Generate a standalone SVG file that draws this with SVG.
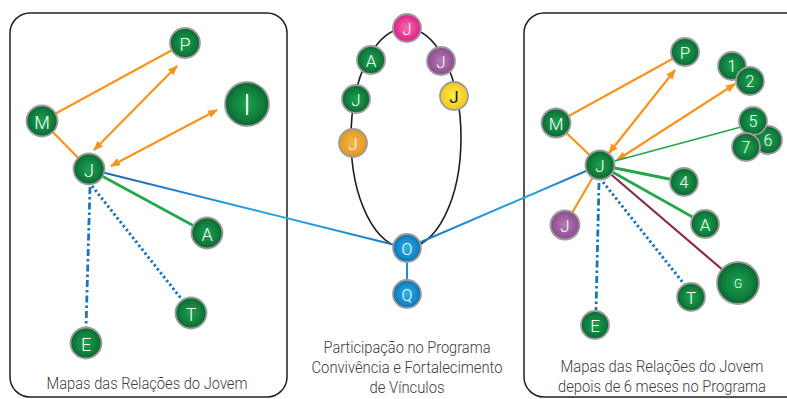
<svg xmlns="http://www.w3.org/2000/svg" width="787" height="399" viewBox="0 0 787 399">
<style>
.box{fill:none;stroke:#231f20;stroke-width:1.5}
.n{stroke:#9c9c9c;stroke-width:1.8}
.g{fill:url(#gGreen)}
.b{fill:url(#gBlue)}
.lbl{font-family:Roboto,"Liberation Sans",sans-serif;font-weight:300;fill:#ffffff;text-anchor:middle;dominant-baseline:central}
.cap{font-family:Roboto,"Liberation Sans",sans-serif;font-weight:300;fill:#3c3c3c;font-size:16px;text-anchor:middle}
.or{stroke:#f7941d;stroke-width:2.2;fill:none}
.arr{marker-start:url(#ah);marker-end:url(#ah)}
.gr{stroke:#22a74a;fill:none}
.dot{stroke:#1b75bc;stroke-width:3;stroke-dasharray:2.4 2.6;fill:none}
.dd{stroke:#1b75bc;stroke-width:2.8;stroke-dasharray:7 3 2.5 3;fill:none}
</style>
<defs>
<radialGradient id="gGreen" cx="0.5" cy="0.5" r="0.5"><stop offset="0" stop-color="#1ba34f"/><stop offset="0.75" stop-color="#0f7a3b"/><stop offset="1" stop-color="#0a6331"/></radialGradient>
<radialGradient id="gBlue" cx="0.5" cy="0.5" r="0.5"><stop offset="0" stop-color="#2fb2e6"/><stop offset="0.75" stop-color="#1486c8"/><stop offset="1" stop-color="#0c69a8"/></radialGradient>
<radialGradient id="gPink" cx="0.5" cy="0.5" r="0.5"><stop offset="0" stop-color="#f46fae"/><stop offset="1" stop-color="#dd1f86"/></radialGradient>
<radialGradient id="gPurple" cx="0.5" cy="0.5" r="0.5"><stop offset="0" stop-color="#b77cb8"/><stop offset="1" stop-color="#8b4b8d"/></radialGradient>
<radialGradient id="gYellow" cx="0.5" cy="0.5" r="0.5"><stop offset="0" stop-color="#fff04f"/><stop offset="1" stop-color="#f6c51a"/></radialGradient>
<radialGradient id="gOrange" cx="0.5" cy="0.5" r="0.5"><stop offset="0" stop-color="#f6b54e"/><stop offset="1" stop-color="#e2981f"/></radialGradient>
<linearGradient id="lnL" gradientUnits="userSpaceOnUse" x1="89" y1="169" x2="407" y2="248"><stop offset="0" stop-color="#1b63ad"/><stop offset="0.6" stop-color="#2ba8dc"/><stop offset="1" stop-color="#1b75bc"/></linearGradient>
<linearGradient id="lnR" gradientUnits="userSpaceOnUse" x1="407" y1="248" x2="600" y2="165"><stop offset="0" stop-color="#1b75bc"/><stop offset="0.6" stop-color="#2ba8dc"/><stop offset="1" stop-color="#1b6fba"/></linearGradient>
<marker id="ah" viewBox="0 0 10 8" refX="9" refY="4" markerWidth="10" markerHeight="8" markerUnits="userSpaceOnUse" orient="auto-start-reverse"><path d="M0,0 L10,4 L0,8 z" fill="#f7941d"/></marker>
</defs>

<rect class="box" x="10" y="13" width="277" height="384" rx="20"/>
<rect class="box" x="524" y="13" width="300" height="384" rx="20"/>

<g id="connectors">
<ellipse cx="406" cy="138" rx="55" ry="110" fill="none" stroke="#231f20" stroke-width="1.6"/>
<line x1="89" y1="169" x2="407" y2="248" stroke="url(#lnL)" stroke-width="2"/>
<line x1="407" y1="248" x2="600" y2="165" stroke="url(#lnR)" stroke-width="2"/>
<line x1="407" y1="248" x2="407" y2="294" stroke="#1b8fd0" stroke-width="2"/>
<!-- left -->
<line class="or" x1="42" y1="121" x2="185" y2="43"/>
<line class="or" x1="42" y1="121" x2="89" y2="169"/>
<line class="or arr" x1="94" y1="150" x2="177" y2="66"/>
<line class="or arr" x1="111" y1="166" x2="217" y2="110"/>
<line class="gr" stroke-width="2.6" x1="89" y1="169" x2="207" y2="233"/>
<line class="dot" x1="92" y1="186" x2="183" y2="301"/>
<line class="dd" x1="90" y1="187" x2="86" y2="328"/>
<!-- right -->
<line class="or" x1="556" y1="123" x2="685" y2="52"/>
<line class="or" x1="556" y1="123" x2="600" y2="165"/>
<line class="or arr" x1="609" y1="153" x2="675" y2="70"/>
<line class="or arr" x1="617" y1="160" x2="735" y2="84"/>
<line class="or" x1="600" y1="165" x2="565" y2="225"/>
<line class="gr" stroke-width="1.6" x1="600" y1="165" x2="741" y2="127"/>
<line class="gr" stroke-width="3" x1="600" y1="165" x2="684" y2="182"/>
<line class="gr" stroke-width="2.6" x1="600" y1="165" x2="705" y2="224"/>
<line stroke="#8b2a50" stroke-width="2.2" x1="600" y1="165" x2="738" y2="283"/>
<line class="dot" x1="603" y1="182" x2="684" y2="284"/>
<line class="dd" x1="599" y1="183" x2="596" y2="310"/>
</g>

<g id="L-P"><circle class="n g" cx="185" cy="43" r="15"/><text class="lbl" x="185" y="44" font-size="18">P</text></g>
<g id="L-I"><circle class="n g" cx="247" cy="104" r="22"/><text class="lbl" x="247" y="104" font-size="30">I</text></g>
<g id="L-M"><circle class="n g" cx="42" cy="121" r="15.5"/><text class="lbl" x="42" y="122" font-size="18">M</text></g>
<g id="L-J"><circle class="n g" cx="89" cy="169" r="15.5"/><text class="lbl" x="89" y="170" font-size="18">J</text></g>
<g id="L-A"><circle class="n g" cx="207" cy="233" r="15.5"/><text class="lbl" x="207" y="234" font-size="18">A</text></g>
<g id="L-T"><circle class="n g" cx="191" cy="313" r="15.5"/><text class="lbl" x="191" y="314" font-size="18">T</text></g>
<g id="L-E"><circle class="n g" cx="86" cy="343" r="15.5"/><text class="lbl" x="86" y="344" font-size="18">E</text></g>

<g id="C-J1"><circle class="n" fill="url(#gPink)" cx="407" cy="28" r="14"/><text class="lbl" x="407" y="29" font-size="17">J</text></g>
<g id="C-A"><circle class="n g" cx="371" cy="60" r="14"/><text class="lbl" x="371" y="61" font-size="17">A</text></g>
<g id="C-J2"><circle class="n" fill="url(#gPurple)" cx="441" cy="61" r="14"/><text class="lbl" x="441" y="62" font-size="17">J</text></g>
<g id="C-J3"><circle class="n" fill="url(#gYellow)" cx="454" cy="96" r="14"/><text class="lbl" x="454" y="97" font-size="17" style="fill:#1a1a1a;font-weight:400">J</text></g>
<g id="C-J4"><circle class="n g" cx="356" cy="99" r="14"/><text class="lbl" x="356" y="100" font-size="17">J</text></g>
<g id="C-J5"><circle class="n" fill="url(#gOrange)" cx="353" cy="143" r="14"/><text class="lbl" x="353" y="144" font-size="17">J</text></g>
<g id="C-O"><circle class="n b" cx="407" cy="248" r="14"/><text class="lbl" x="407" y="249" font-size="16">O</text></g>
<g id="C-Q"><circle class="n b" cx="407" cy="294" r="14"/><text class="lbl" x="407" y="295" font-size="16">Q</text></g>

<g id="R-P"><circle class="n g" cx="685" cy="52" r="14"/><text class="lbl" x="685" y="53" font-size="17">P</text></g>
<g id="R-1"><circle class="n g" cx="732" cy="66" r="14"/><text class="lbl" x="732" y="66" font-size="16">1</text></g>
<g id="R-2"><circle class="n g" cx="750" cy="81" r="14"/><text class="lbl" x="750" y="81" font-size="16">2</text></g>
<g id="R-6"><circle class="n g" cx="768" cy="140" r="14"/><text class="lbl" x="768" y="140" font-size="16">6</text></g>
<g id="R-5"><circle class="n g" cx="753" cy="121" r="14"/><text class="lbl" x="753" y="121" font-size="16">5</text></g>
<g id="R-7"><circle class="n g" cx="746" cy="147" r="14"/><text class="lbl" x="746" y="147" font-size="16">7</text></g>
<g id="R-M"><circle class="n g" cx="556" cy="123" r="14.5"/><text class="lbl" x="556" y="124" font-size="17">M</text></g>
<g id="R-J"><circle class="n g" cx="600" cy="165" r="14.5"/><text class="lbl" x="600" y="166" font-size="17">J</text></g>
<g id="R-4"><circle class="n g" cx="684" cy="182" r="14"/><text class="lbl" x="684" y="182" font-size="16">4</text></g>
<g id="R-JP"><circle class="n" fill="url(#gPurple)" cx="565" cy="225" r="14.5"/><text class="lbl" x="565" y="226" font-size="17">J</text></g>
<g id="R-A"><circle class="n g" cx="705" cy="224" r="14"/><text class="lbl" x="705" y="225" font-size="17">A</text></g>
<g id="R-G"><circle class="n g" cx="738" cy="283" r="21"/><text class="lbl" x="738" y="284" font-size="12">G</text></g>
<g id="R-T"><circle class="n g" cx="691" cy="297" r="14"/><text class="lbl" x="691" y="298" font-size="17">T</text></g>
<g id="R-E"><circle class="n g" cx="595" cy="325" r="14"/><text class="lbl" x="595" y="326" font-size="17">E</text></g>

<text class="cap" x="147" y="389" textLength="201" lengthAdjust="spacingAndGlyphs">Mapas das Relações do Jovem</text>
<text class="cap" x="407" y="353" textLength="167" lengthAdjust="spacingAndGlyphs">Participação no Programa</text>
<text class="cap" x="407" y="373" textLength="191" lengthAdjust="spacingAndGlyphs">Convivência e Fortalecimento</text>
<text class="cap" x="407" y="393" textLength="75" lengthAdjust="spacingAndGlyphs">de Vínculos</text>
<text class="cap" x="662" y="372" textLength="203" lengthAdjust="spacingAndGlyphs">Mapas das Relações do Jovem</text>
<text class="cap" x="662" y="392" textLength="208" lengthAdjust="spacingAndGlyphs">depois de 6 meses no Programa</text>
</svg>
